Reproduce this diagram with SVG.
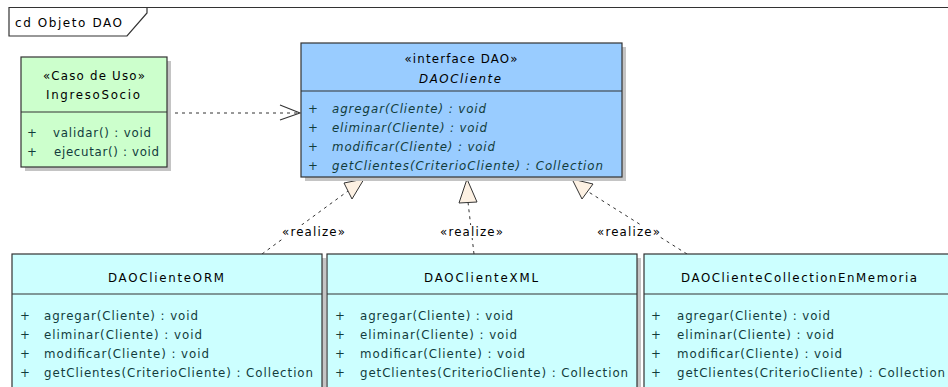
<svg xmlns="http://www.w3.org/2000/svg" width="948" height="387" viewBox="0 0 948 387">
  <style>
    text { font-family: "DejaVu Sans", "Liberation Sans", sans-serif; font-size: 11.8px; fill: #000; }
    .frame-label { font-size: 12px; }
    .member { fill: #123c3c; }
    .italic { font-style: italic; }
    .mid { text-anchor: middle; }
    .box { stroke: #333; stroke-width: 1.2; }
    .shadow { fill: #c4c4c4; }
    .usecase { fill: #ccffcc; }
    .iface { fill: #99ccff; }
    .impl { fill: #ccffff; }
    .divider { stroke: #333; stroke-width: 1.2; }
    .dash { fill: none; stroke: #333; stroke-width: 1; stroke-dasharray: 3 4; }
    .open-head { fill: none; stroke: #333; stroke-width: 1.1; }
    .realize-head { fill: #fdf1e3; stroke: #333; stroke-width: 1; }
    .label-bg { fill: #fff; }
  </style>

  <!-- diagram frame -->
  <g id="frame">
    <line x1="147" y1="7.5" x2="948" y2="7.5" stroke="#333" stroke-width="1.2"/>
    <path d="M9,7.5 H147 V13 L127,36 H9 Z" fill="#fff" stroke="#333" stroke-width="1.2"/>
    <text class="frame-label" x="15" y="27" textLength="107" lengthAdjust="spacing">cd Objeto DAO</text>
  </g>

  <!-- connectors -->
  <g id="connectors">
    <!-- dependency: IngresoSocio uses DAOCliente -->
    <line class="dash" x1="175" y1="113" x2="298" y2="113"/>
    <polyline class="open-head" points="280,105 300,113 280,120"/>

    <!-- realizations -->
    <line class="dash" x1="262" y1="254" x2="348" y2="191"/>
    <polygon class="realize-head" points="364,179 352,199 344,183"/>

    <line class="dash" x1="474" y1="254" x2="468" y2="202"/>
    <polygon class="realize-head" points="467,179 477,202 459,203"/>

    <line class="dash" x1="687" y1="254" x2="587" y2="191"/>
    <polygon class="realize-head" points="572,179 593,184 582,199"/>

    <rect class="label-bg" x="282" y="225" width="63" height="13"/>
    <text x="313.5" y="236" class="mid" textLength="63" lengthAdjust="spacing">«realize»</text>
    <rect class="label-bg" x="440" y="225" width="63" height="13"/>
    <text x="471.5" y="236" class="mid" textLength="63" lengthAdjust="spacing">«realize»</text>
    <rect class="label-bg" x="597" y="225" width="63" height="13"/>
    <text x="628.5" y="236" class="mid" textLength="63" lengthAdjust="spacing">«realize»</text>
  </g>

  <!-- use case class -->
  <g id="IngresoSocio">
    <rect class="shadow" x="25" y="61" width="146" height="110"/>
    <rect class="box usecase" x="21" y="57" width="146" height="110"/>
    <line class="divider" x1="21" y1="112" x2="167" y2="112"/>
    <text x="94" y="80" class="mid" textLength="102" lengthAdjust="spacing">«Caso de Uso»</text>
    <text x="93" y="99" class="mid" textLength="94" lengthAdjust="spacing">IngresoSocio</text>
    <text x="27" y="137" class="member">+</text>
    <text x="53" y="137" class="member" textLength="98" lengthAdjust="spacing">validar() : void</text>
    <text x="27" y="156" class="member">+</text>
    <text x="54" y="156" class="member" textLength="105" lengthAdjust="spacing">ejecutar() : void</text>
  </g>

  <!-- interface -->
  <g id="DAOCliente">
    <rect class="shadow" x="305" y="47" width="321" height="134"/>
    <rect class="box iface" x="301" y="43" width="321" height="134"/>
    <line class="divider" x1="301" y1="91" x2="622" y2="91"/>
    <text x="461" y="63" class="mid" textLength="113" lengthAdjust="spacing">«interface DAO»</text>
    <text x="460" y="83" class="mid italic" textLength="82" lengthAdjust="spacing">DAOCliente</text>
    <text x="308" y="113" class="member">+</text>
    <text x="332" y="113" class="member italic" textLength="154" lengthAdjust="spacing">agregar(Cliente) : void</text>
    <text x="308" y="132" class="member">+</text>
    <text x="332" y="132" class="member italic" textLength="155" lengthAdjust="spacing">eliminar(Cliente) : void</text>
    <text x="308" y="151" class="member">+</text>
    <text x="332" y="151" class="member italic" textLength="163" lengthAdjust="spacing">modificar(Cliente) : void</text>
    <text x="308" y="170" class="member">+</text>
    <text x="332" y="170" class="member italic" textLength="271" lengthAdjust="spacing">getClientes(CriterioCliente) : Collection</text>
  </g>

  <!-- implementations -->
  <g id="DAOClienteORM">
    <rect class="shadow" x="16" y="258" width="310" height="150"/>
    <rect class="box impl" x="12" y="254" width="310" height="150"/>
    <line class="divider" x1="12" y1="294" x2="322" y2="294"/>
    <text x="166" y="282" class="mid" textLength="116" lengthAdjust="spacing">DAOClienteORM</text>
    <text x="20" y="320" class="member">+</text>
    <text x="44" y="320" class="member" textLength="154" lengthAdjust="spacing">agregar(Cliente) : void</text>
    <text x="20" y="339" class="member">+</text>
    <text x="44" y="339" class="member" textLength="158" lengthAdjust="spacing">eliminar(Cliente) : void</text>
    <text x="20" y="358" class="member">+</text>
    <text x="44" y="358" class="member" textLength="165" lengthAdjust="spacing">modificar(Cliente) : void</text>
    <text x="20" y="377" class="member">+</text>
    <text x="44" y="377" class="member" textLength="269" lengthAdjust="spacing">getClientes(CriterioCliente) : Collection</text>
  </g>

  <g id="DAOClienteXML">
    <rect class="shadow" x="331" y="258" width="310" height="150"/>
    <rect class="box impl" x="327" y="254" width="310" height="150"/>
    <line class="divider" x1="327" y1="294" x2="637" y2="294"/>
    <text x="481" y="282" class="mid" textLength="114" lengthAdjust="spacing">DAOClienteXML</text>
    <text x="335" y="320" class="member">+</text>
    <text x="360" y="320" class="member" textLength="153" lengthAdjust="spacing">agregar(Cliente) : void</text>
    <text x="335" y="339" class="member">+</text>
    <text x="360" y="339" class="member" textLength="157" lengthAdjust="spacing">eliminar(Cliente) : void</text>
    <text x="335" y="358" class="member">+</text>
    <text x="360" y="358" class="member" textLength="165" lengthAdjust="spacing">modificar(Cliente) : void</text>
    <text x="335" y="377" class="member">+</text>
    <text x="360" y="377" class="member" textLength="268" lengthAdjust="spacing">getClientes(CriterioCliente) : Collection</text>
  </g>

  <g id="DAOClienteCollectionEnMemoria">
    <rect class="shadow" x="648" y="258" width="310" height="150"/>
    <rect class="box impl" x="644" y="254" width="310" height="150"/>
    <line class="divider" x1="644" y1="294" x2="954" y2="294"/>
    <text x="799" y="282" class="mid" textLength="236" lengthAdjust="spacing">DAOClienteCollectionEnMemoria</text>
    <text x="651" y="320" class="member">+</text>
    <text x="677" y="320" class="member" textLength="153" lengthAdjust="spacing">agregar(Cliente) : void</text>
    <text x="651" y="339" class="member">+</text>
    <text x="677" y="339" class="member" textLength="157" lengthAdjust="spacing">eliminar(Cliente) : void</text>
    <text x="651" y="358" class="member">+</text>
    <text x="677" y="358" class="member" textLength="165" lengthAdjust="spacing">modificar(Cliente) : void</text>
    <text x="651" y="377" class="member">+</text>
    <text x="677" y="377" class="member" textLength="268" lengthAdjust="spacing">getClientes(CriterioCliente) : Collection</text>
  </g>
</svg>
